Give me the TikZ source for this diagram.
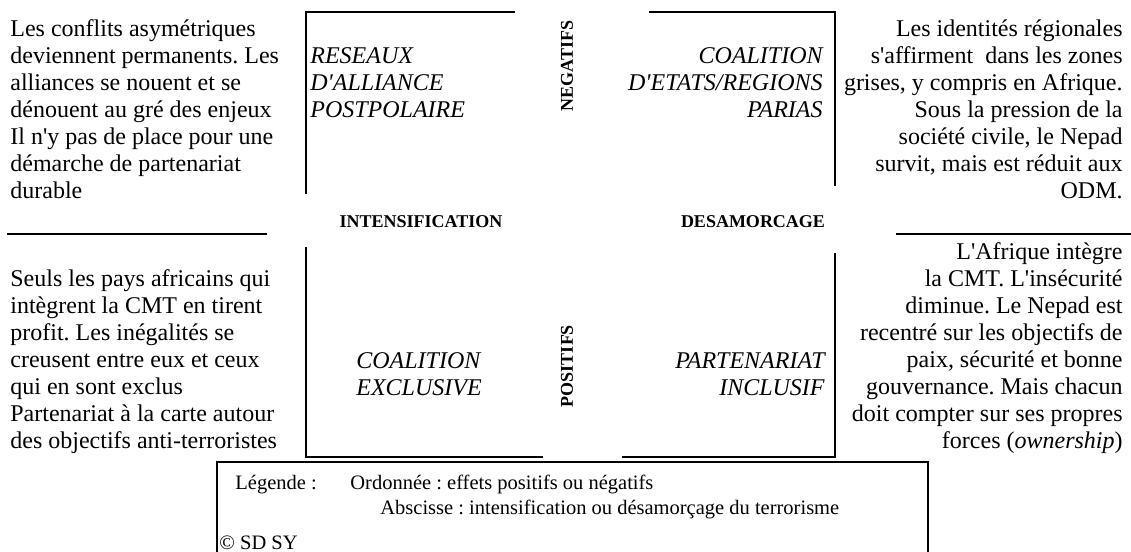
\documentclass[tikz,border=0pt]{standalone}
\usepackage{fontspec}
\setmainfont{Liberation Serif}[Ligatures=TeXOff]
\frenchspacing
\tikzset{
  bord/.style={line width=1.3pt},
  legbox/.style={line width=0.75pt},
  corps/.style={inner sep=0pt, font=\fontsize{12}{13.5}\selectfont},
  quad/.style={inner sep=0pt, font=\fontsize{12}{13.5}\selectfont\itshape},
  axe/.style={inner sep=0pt, font=\fontsize{9}{10}\selectfont\bfseries},
  leg/.style={inner sep=0pt, anchor=base west, font=\fontsize{10.25}{12}\selectfont}
}
\newcommand{\equerre}[3]{ \draw[bord] (#1) -- (#2) -- (#3);}
\newcommand{\trait}[2]{ \draw[bord] (#1) -- (#2);}

\begin{document}
\begin{tikzpicture}[x=0.5pt,y=-0.5pt]
        \useasboundingbox (0,0) rectangle (1131,552);

        % frame corners
        \coordinate (hg1) at (306,194);
        \coordinate (hg2) at (306,12);
        \coordinate (hg3) at (515,12);
        \coordinate (hd1) at (649,12);
        \coordinate (hd2) at (835,12);
        \coordinate (hd3) at (835,186);
        \coordinate (bg1) at (306,247);
        \coordinate (bg2) at (306,457);
        \coordinate (bg3) at (543,457);
        \coordinate (bd1) at (622,457);
        \coordinate (bd2) at (835,457);
        \coordinate (bd3) at (835,253);
        \coordinate (mg1) at (7,234);
        \coordinate (mg2) at (267,234);
        \coordinate (md1) at (896,234);
        \coordinate (md2) at (1131,234);

        \equerre{hg1}{hg2}{hg3}
        \equerre{hd1}{hd2}{hd3}
        \equerre{bg1}{bg2}{bg3}
        \equerre{bd1}{bd2}{bd3}
        \trait{mg1}{mg2}
        \trait{md1}{md2}

        % quadrants
        \node[quad, align=left, anchor=north west] (reseaux) at (310,47) {RESEAUX\\D'ALLIANCE\\POSTPOLAIRE};
        \node[quad, align=right, anchor=north east] (parias) at (823,47) {COALITION\\D'ETATS/REGIONS\\PARIAS};
        \node[quad, align=left, anchor=north west] (exclusive) at (356,352) {COALITION\\EXCLUSIVE};
        \node[quad, align=right, anchor=north east] (inclusif) at (825,352) {PARTENARIAT\\INCLUSIF};

        % axes
        \node[axe, rotate=90] (negatifs) at (567,66) {NEGATIFS};
        \node[axe, rotate=90] (positifs) at (567,366) {POSITIFS};
        \node[axe, anchor=base] (intens) at (421,227) {INTENSIFICATION};
        \node[axe, anchor=base] (desam) at (753,227) {DESAMORCAGE};

        % side texts
        \node[corps, align=left, anchor=north west] (txthg) at (10,19) {Les conflits asymétriques\\deviennent permanents. Les\\alliances se nouent et se\\dénouent au gré des enjeux\\Il n'y pas de place pour une\\démarche de partenariat\\durable};
        \node[corps, align=right, anchor=north east] (txthd) at (1123,19) {Les identités régionales\\s'affirment\ \ dans les zones\\grises, y compris en Afrique.\\Sous la pression de la\\société civile, le Nepad\\survit, mais est réduit aux\\ODM.};
        \node[corps, align=left, anchor=north west] (txtbg) at (10,269) {Seuls les pays africains qui\\intègrent la CMT en tirent\\profit. Les inégalités se\\creusent entre eux et ceux\\qui en sont exclus\\Partenariat à la carte autour\\des objectifs anti-terroristes};
        \node[corps, align=right, anchor=north east] (txtbd) at (1123,242) {L'Afrique intègre\\la CMT. L'insécurité\\diminue. Le Nepad est\\recentré sur les objectifs de\\paix, sécurité et bonne\\gouvernance. Mais chacun\\doit compter sur ses propres\\forces (\textit{ownership})};

        % legend
        \draw[legbox] (217,462) rectangle (928,580);
        \node[leg] (legende) at (235,489) {Légende :};
        \node[leg] (ordonnee) at (350,489) {Ordonnée : effets positifs ou négatifs};
        \node[leg] (abscisse) at (380,514) {Abscisse : intensification ou désamorçage du terrorisme};
        \node[leg] (copy) at (219,549) {© SD SY};
    \end{tikzpicture}
\end{document}
